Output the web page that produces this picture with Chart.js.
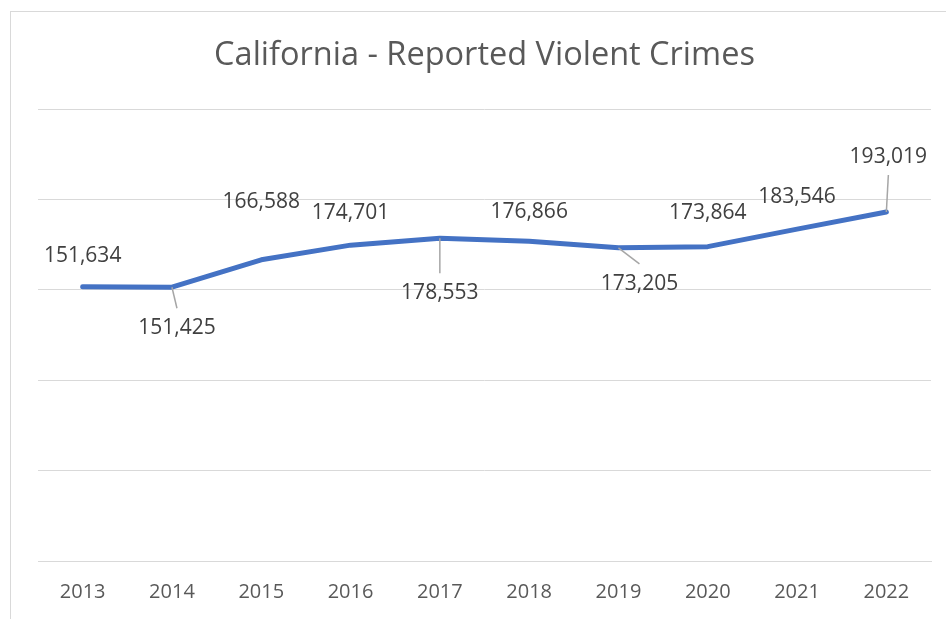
<!DOCTYPE html>
<html>
<head>
<meta charset="utf-8">
<script src="https://cdn.jsdelivr.net/npm/chart.js@4.4.1/dist/chart.umd.min.js"></script>
<style>
  html, body { margin: 0; padding: 0; background: #fff; }
  #wrap { position: relative; width: 946px; height: 619px; overflow: hidden; }
  #frame { position: absolute; left: 10px; top: 11px; width: 960px; height: 640px; border: 1px solid #d9d9d9; box-sizing: border-box; }
  #chart { position: absolute; left: 0; top: 0; }
</style>
</head>
<body>
<div id="wrap">
  <div id="frame"></div>
  <canvas id="chart" width="946" height="619"></canvas>
</div>
<script>
// data
const years = ['2013', '2014', '2015', '2016', '2017', '2018', '2019', '2020', '2021', '2022'];
const crimes = [151634, 151425, 166588, 174701, 178553, 176866, 173205, 173864, 183546, 193019];
const yTicks = [0, 50000, 100000, 150000, 200000, 250000];

// where each data label sits relative to its point: [dx, dy, leader line]
const labelPos = [
  [0, -31, false], [5, 41, true], [0, -58, false], [0, -32, false], [0, 55, true],
  [0, -29, false], [21, 36, true], [0, -34, false], [0, -32, false], [2, -55, true]
];

const FONT = '"Open Sans", "Liberation Sans", sans-serif';

const dataLabels = {
  id: 'dataLabels',
  afterDatasetsDraw(chart) {
    const ctx = chart.ctx;
    const meta = chart.getDatasetMeta(0);
    ctx.save();
    ctx.font = '21px ' + FONT;
    ctx.textAlign = 'center';
    ctx.textBaseline = 'middle';
    meta.data.forEach((pt, i) => {
      const [dx, dy, leader] = labelPos[i];
      const lx = pt.x + dx, ly = pt.y + dy;
      if (leader) {
        // leader runs from the point to the middle of the label's near edge
        const ey = dy > 0 ? ly - 20 : ly + 18;
        ctx.strokeStyle = '#a6a6a6';
        ctx.lineWidth = 1.5;
        ctx.beginPath();
        ctx.moveTo(pt.x, pt.y);
        ctx.lineTo(lx, ey);
        ctx.stroke();
      }
      ctx.fillStyle = '#404040';
      ctx.fillText(crimes[i].toLocaleString('en-US'), lx, ly);
    });
    ctx.restore();
  }
};

new Chart(document.getElementById('chart'), {
  type: 'line',
  data: {
    labels: years,
    datasets: [{
      data: crimes,
      borderColor: '#4472c4',
      borderWidth: 5,
      borderCapStyle: 'round',
      borderJoinStyle: 'round',
      pointRadius: 0,
      tension: 0,
      fill: false
    }]
  },
  options: {
    responsive: false,
    maintainAspectRatio: false,
    animation: false,
    events: [],
    layout: { padding: { left: 38, right: 15, top: 0, bottom: -4 } },
    plugins: {
      legend: { display: false },
      tooltip: { enabled: false },
      title: {
        display: true,
        text: 'California - Reported Violent Crimes',
        color: '#595959',
        font: { family: FONT, size: 32.5, weight: 'normal' },
        padding: { top: 36.5, bottom: 33.5 }
      }
    },
    scales: {
      x: {
        offset: true,
        grid: { display: false, drawTicks: false },
        border: { display: true, color: '#d9d9d9', width: 1 },
        ticks: { color: '#595959', font: { family: FONT, size: 20 }, padding: 19 }
      },
      y: {
        min: yTicks[0],
        max: yTicks[yTicks.length - 1],
        afterBuildTicks: axis => { axis.ticks = yTicks.map(v => ({ value: v })); },
        grid: { color: '#d9d9d9', lineWidth: 1, drawTicks: false },
        border: { display: false },
        ticks: { display: false }
      }
    }
  },
  plugins: [dataLabels]
});
</script>
</body>
</html>
